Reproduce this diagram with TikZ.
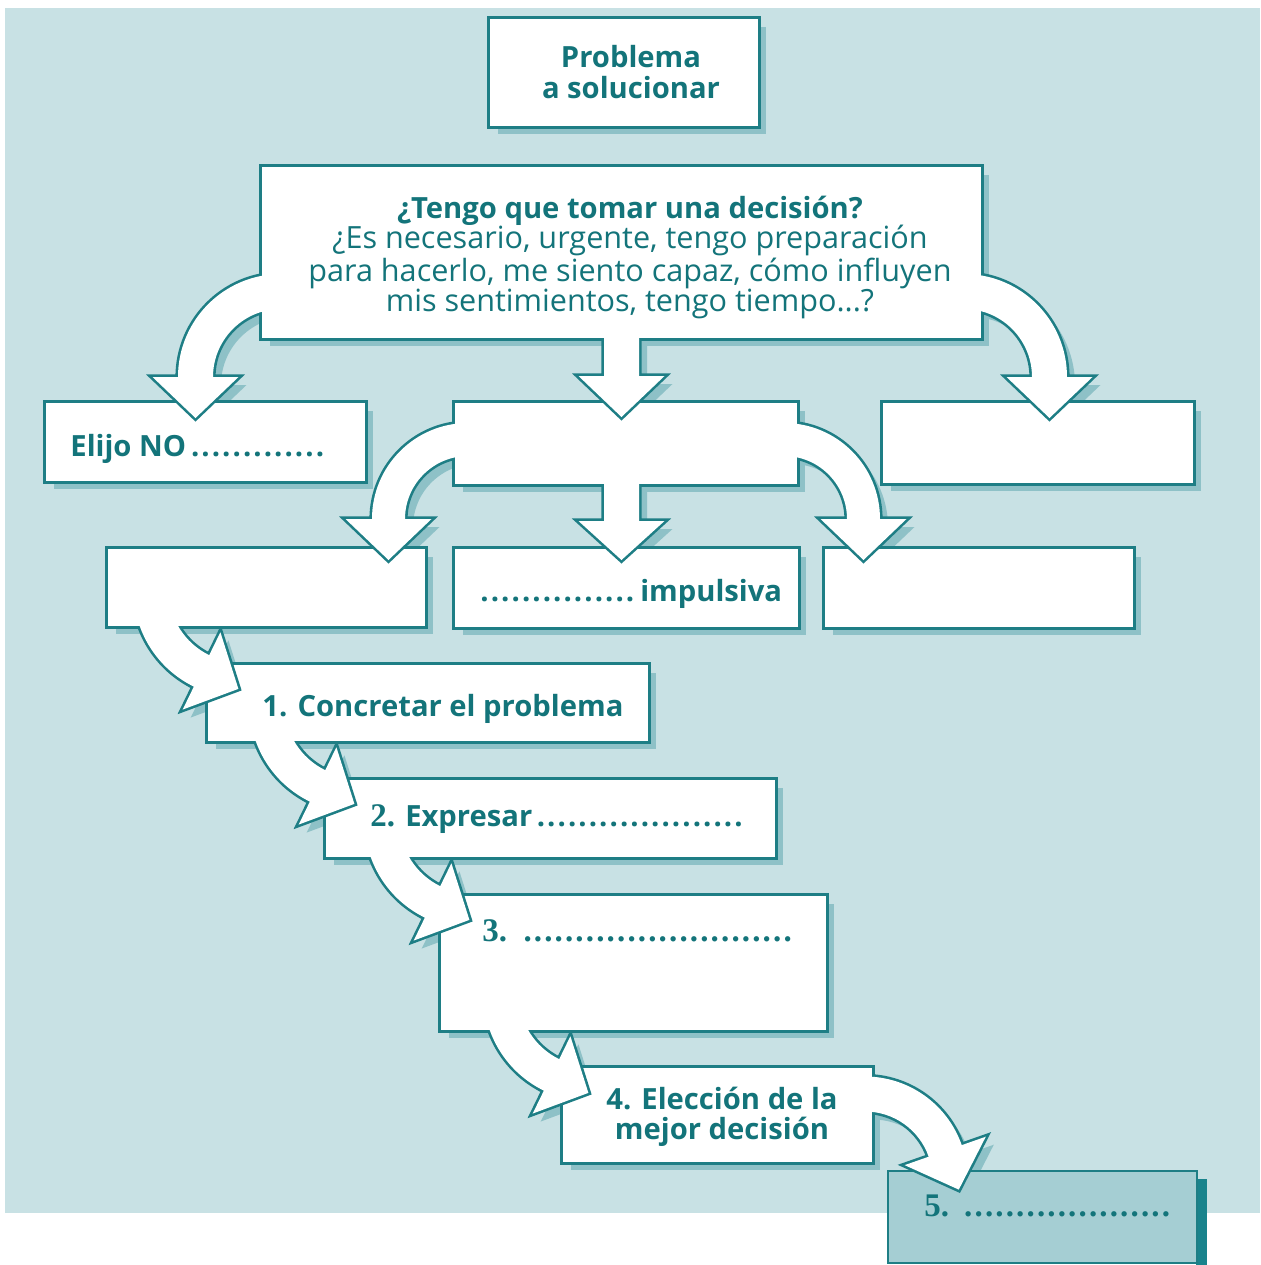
\documentclass[tikz,border=0pt]{standalone}
\usepackage{fontspec}
\setmainfont{Open Sans}[Ligatures=NoCommon]
\newfontfamily\serifb{Liberation Serif}
\usetikzlibrary{calc}
\definecolor{bgc}{HTML}{C8E1E4}
\definecolor{shadc}{HTML}{8EC1C7}
\definecolor{linec}{HTML}{1E7E85}
\definecolor{txtc}{HTML}{13747A}
\definecolor{fivec}{HTML}{A5CED3}
\definecolor{darkc}{HTML}{19838C}
\tikzset{
  shad/.style={fill=shadc,draw=none},
  outl/.style={draw=linec,line width=2.6pt,line join=miter},
  wfill/.style={fill=white,draw=none},
  txt/.style={text=txtc,inner sep=0pt,font=\fontsize{14.6}{14.8}\selectfont\bfseries},
  txtn/.style={text=txtc,inner sep=0pt,font=\fontsize{15.3}{15}\selectfont},
}
% bent arrow: cx, cy, inner r, outer r, start angle, end angle, tip direction
\newcommand\bentpath[7]{($(#1,#2)+(#5:#4)$) arc[start angle=#5,end angle=#6,radius=#4]
  -- ($(#1,#2)+(#6:{(#3+#4)/2+43})$)
  -- ($(#1,#2)+(#6:{(#3+#4)/2})+(#7:41)$)
  -- ($(#1,#2)+(#6:{(#3+#4)/2-43})$)
  -- ($(#1,#2)+(#6:#3)$) arc[start angle=#6,end angle=#5,radius=#3] -- cycle}
\newcommand\dotsw[1]{\hbox to #1{\cleaders\hbox to 5.2pt{\hss.\hss}\hfill}}
\newcommand\sernum{\fontsize{16.5}{16.5}\selectfont\serifb}
% boxes
\def\bP{(490,19) rectangle (758,126)}
\def\bBig{(262,167) rectangle (981,338)}
\def\bNo{(46,403) rectangle (365,481)}
\def\bMid{(455,403) rectangle (797,484)}
\def\bR{(883,403) rectangle (1193,483)}
\def\cL{(108,549) rectangle (425,626)}
\def\cM{(455,549) rectangle (798,627)}
\def\cR{(825,549) rectangle (1133,627)}
\def\bOne{(208,665) rectangle (648,741)}
\def\bTwo{(326,780) rectangle (775,857)}
\def\bThree{(441,896) rectangle (826,1030)}
\def\bFour{(563,1068) rectangle (872,1162)}
% straight arrows
\def\sA{(604,330) -- (604,376) -- (578.5,376) -- (621.5,417) -- (664.5,376) -- (639,376) -- (639,330) -- cycle}
\def\sB{(604,475) -- (604,521) -- (578.5,521) -- (621.5,560) -- (664.5,521) -- (639,521) -- (639,475) -- cycle}
% bent arrows
\def\aOne{\bentpath{281}{377}{68}{103}{270}{180}{90}}
\def\aThree{\bentpath{964}{377}{68}{103}{270}{360}{90}}
\def\aFour{\bentpath{468}{519}{63}{96}{270}{180}{90}}
\def\aSix{\bentpath{784}{519}{63}{96}{270}{360}{90}}
\def\aSeven{\bentpath{241}{590}{72.5}{107.5}{180}{116}{26}}
\def\aEight{\bentpath{357}{705}{72.5}{107.5}{180}{116}{26}}
\def\aNine{\bentpath{472}{821}{72.5}{107.5}{180}{116}{26}}
\def\aTen{\bentpath{591}{994}{72.5}{107.5}{180}{116}{26}}
\def\aEleven{\bentpath{865}{1179}{67.5}{102.5}{270}{340.7}{70.7}}
\begin{document}
\begin{tikzpicture}[x=0.5pt,y=-0.5pt]
\useasboundingbox (0,0) rectangle (1260,1265);
\fill[white] (0,0) rectangle (1260,1265);
\fill[bgc] (5,8) rectangle (1260,1213);
% shadows
\begin{scope}[transform canvas={xshift=4pt,yshift=-4pt}]
\fill[shadc] \bP;
\fill[shadc] \bBig; \fill[shadc] \aOne; \fill[shadc] \aThree; \fill[shadc] \sA;
\fill[shadc] \bNo; \fill[shadc] \bR;
\fill[shadc] \bMid; \fill[shadc] \aFour; \fill[shadc] \aSix; \fill[shadc] \sB;
\fill[shadc] \cL; \fill[shadc] \cM; \fill[shadc] \cR; \fill[shadc] \aSeven;
\fill[shadc] \bOne; \fill[shadc] \aEight;
\fill[shadc] \bTwo; \fill[shadc] \aNine;
\fill[shadc] \bThree; \fill[shadc] \aTen;
\fill[shadc] \bFour; \fill[shadc] \aEleven;
\end{scope}
% box 5
\fill[darkc] (1196,1179) rectangle (1207,1265);
\draw[linec,line width=1.3pt,fill=fivec] (888,1171) rectangle (1197,1263);
% box 4 group
\path[outl] \bFour; \path[outl] \aEleven;
\path[wfill] \bFour; \path[wfill] \aEleven;
% box 3 group
\path[outl] \bThree; \path[outl] \aTen;
\path[wfill] \bThree; \path[wfill] \aTen;
% box 2 group
\path[outl] \bTwo; \path[outl] \aNine;
\path[wfill] \bTwo; \path[wfill] \aNine;
% box 1 group
\path[outl] \bOne; \path[outl] \aEight;
\path[wfill] \bOne; \path[wfill] \aEight;
% row 3
\path[outl] \cL; \path[outl] \aSeven;
\path[wfill] \cL; \path[wfill] \aSeven;
\path[outl] \cM; \path[wfill] \cM;
\path[outl] \cR; \path[wfill] \cR;
% middle group
\path[outl] \bMid; \path[outl] \aFour; \path[outl] \aSix; \path[outl] \sB;
\path[wfill] \bMid; \path[wfill] \aFour; \path[wfill] \aSix; \path[wfill] \sB;
% row 2 side boxes
\path[outl] \bNo; \path[wfill] \bNo;
\path[outl] \bR; \path[wfill] \bR;
% big group
\path[outl] \bBig; \path[outl] \aOne; \path[outl] \aThree; \path[outl] \sA;
\path[wfill] \bBig; \path[wfill] \aOne; \path[wfill] \aThree; \path[wfill] \sA;
% problem box
\path[outl] \bP; \path[wfill] \bP;
% texts
\node[txt,align=center] (tprob) at (631,72) {Problema\\[0.5pt]a solucionar};
\node[txt,anchor=base] (tq) at (630,218) {¿Tengo que tomar una decisión?};
\node[txtn,align=center,anchor=north] (tqs) at (630,225) {¿Es necesario, urgente, tengo preparación\\para hacerlo, me siento capaz, cómo influyen\\mis sentimientos, tengo tiempo...?};
\node[txt,anchor=base west] (tno) at (70,456) {Elijo NO\dotsw{71.5pt}};
\node[txt,anchor=base west] (timp) at (474,601) {\dotsw{83pt}impulsiva};
\node[txt,anchor=base west] (t1) at (262,716) {1. Concretar el problema};
\node[txt,anchor=base west] (t2) at (370,826) {{\sernum 2.} Expresar\dotsw{107.5pt}};
\node[txt,anchor=base west] (t3) at (482,941) {{\sernum 3. \dotsw{139.5pt}}};
\node[txt,align=center] (t4) at (722,1117) {4. Elección de la\\[0.5pt]mejor decisión};
\node[txt,anchor=base west] (t5) at (924,1216) {{\sernum 5. \dotsw{107pt}}};
\end{tikzpicture}
\end{document}
